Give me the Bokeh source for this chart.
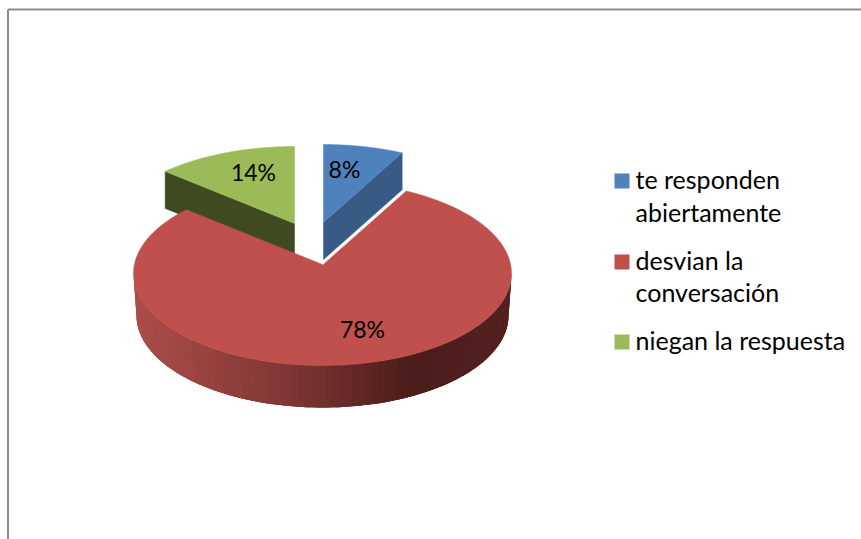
import numpy as np
from bokeh.plotting import figure
from bokeh.models import Range1d
from bokeh.core.properties import value
from bokeh.embed import file_html
from bokeh.resources import INLINE

categories = ["te responden abiertamente", "desvian la conversación", "niegan la respuesta"]
shares = [8, 78, 14]
labels = ["8%", "78%", "14%"]
legend_lines = [["te responden", "abiertamente"], ["desvian la", "conversación"], ["niegan la respuesta"]]
colors = ["#4f81bd", "#bf504d", "#9bbb59"]
side_colors = ["#375b85", "#7a2f2d", "#404a20"]

W, H = 861, 539
FONT = "Lato"
RX, RY = 189, 92
# wedge apex on screen, and how far the apex sits behind the centre of its ellipse
apex = [(323, 222), (322, 264), (294, 223)]
behind = [14, 9, 15]
depth = [37, 42, 37]
label_pos = [(344, 168), (362, 328), (253, 171)]

p = figure(width=W, height=H, output_backend="svg", toolbar_location=None,
           x_range=Range1d(0, W), y_range=Range1d(H, 0),
           min_border=0, outline_line_color=None, background_fill_color="white")
p.axis.visible = False
p.grid.visible = False

# chart frame
p.line([7.5, 7.5], [H, 9], line_color="#8c8c8c", line_width=2)
p.line([7.5, W], [9, 9], line_color="#8c8c8c", line_width=2)

fractions = np.array(shares, dtype=float) / sum(shares)
edges = np.concatenate([[0], np.cumsum(fractions)]) * 2 * np.pi


def rim(a, i):
    """Screen point where the ray of pie angle a leaves wedge i's ellipse."""
    a = np.asarray(a, dtype=float)
    d = behind[i] / RY
    c, s = np.cos(a), np.sin(a)
    t = -d * c + np.sqrt((d * c) ** 2 + 1 - d ** 2)
    ux, uy = t * s, d + t * c
    cy = apex[i][1] + behind[i]
    return apex[i][0] + RX * ux, cy - RY * uy


def wedge_outline(i, n=120):
    a = np.linspace(edges[i], edges[i + 1], n)
    x, y = rim(a, i)
    return np.r_[apex[i][0], x], np.r_[apex[i][1], y]


def interp_color(f):
    stops = [(0.0, (172, 78, 75)), (0.2, (150, 66, 63)), (0.4, (128, 55, 53)),
             (0.55, (104, 43, 41)), (0.72, (76, 29, 27)), (1.0, (84, 34, 32))]
    fs = [s[0] for s in stops]
    rgb = [int(np.interp(f, fs, [s[1][k] for s in stops])) for k in range(3)]
    return "#%02x%02x%02x" % tuple(rgb)


# radial side walls of the green and blue wedges
for i, a_edge in ((2, edges[2]), (0, edges[1])):
    ex, ey = rim(a_edge, i)
    ex, ey = float(ex), float(ey)
    ax, ay = apex[i]
    p.patch([ex, ax, ax, ex], [ey, ay, ay + depth[i], ey + depth[i]],
            fill_color=side_colors[i], line_color=side_colors[i], line_width=0.5)

# curved front wall of the red wedge, painted left to right with each band
# running on under the next so no seams show
cy = apex[1][1] + behind[1]
cx = apex[1][0]
strips = np.linspace(-np.pi / 2, np.pi / 2, 90)
for k in range(len(strips) - 1):
    tt_ = strips[k:k + 4]
    xt = cx + RX * np.sin(tt_)
    yt = cy + RY * np.cos(tt_)
    xb = cx + (RX - 3) * np.sin(tt_)
    yb = cy + depth[1] + RY * np.cos(tt_)
    col = interp_color((xt[0] - (cx - RX)) / (2 * RX))
    p.patch(np.r_[xt, xb[::-1]], np.r_[yt, yb[::-1]], fill_color=col, line_color=None)

# top faces
for i in (2, 0, 1):
    x, y = wedge_outline(i)
    p.patch(x, y, fill_color=colors[i], line_color=colors[i], line_width=0.5)

# pale seam between the red wedge and the blue wall
sx, sy = rim(edges[1], 1)
p.line([apex[1][0], float(sx)], [apex[1][1], float(sy)], line_color="white", line_width=1)

# percentage labels
p.text([q[0] for q in label_pos], [q[1] for q in label_pos], text=labels,
       text_font=value(FONT), text_font_size="23px", text_color="black",
       text_align="center", text_baseline="middle")

# legend
legend_x, legend_text_x = 621.5, 635
legend_y = [180.5, 261.5, 341.5]
legend_text_y = [178.5, 259, 339]
line_step = 32.5
p.scatter([legend_x] * 3, legend_y, marker="square", size=15, fill_color=colors, line_color=None)
tx, ty, tt = [], [], []
for y0, lines in zip(legend_text_y, legend_lines):
    for j, s in enumerate(lines):
        tx.append(legend_text_x)
        ty.append(y0 + j * line_step)
        tt.append(s)
p.text(tx, ty, text=tt, text_font=value(FONT), text_font_size="25px", text_color="black",
       text_align="left", text_baseline="middle")

open("out.html", "w").write(file_html(p, INLINE))
